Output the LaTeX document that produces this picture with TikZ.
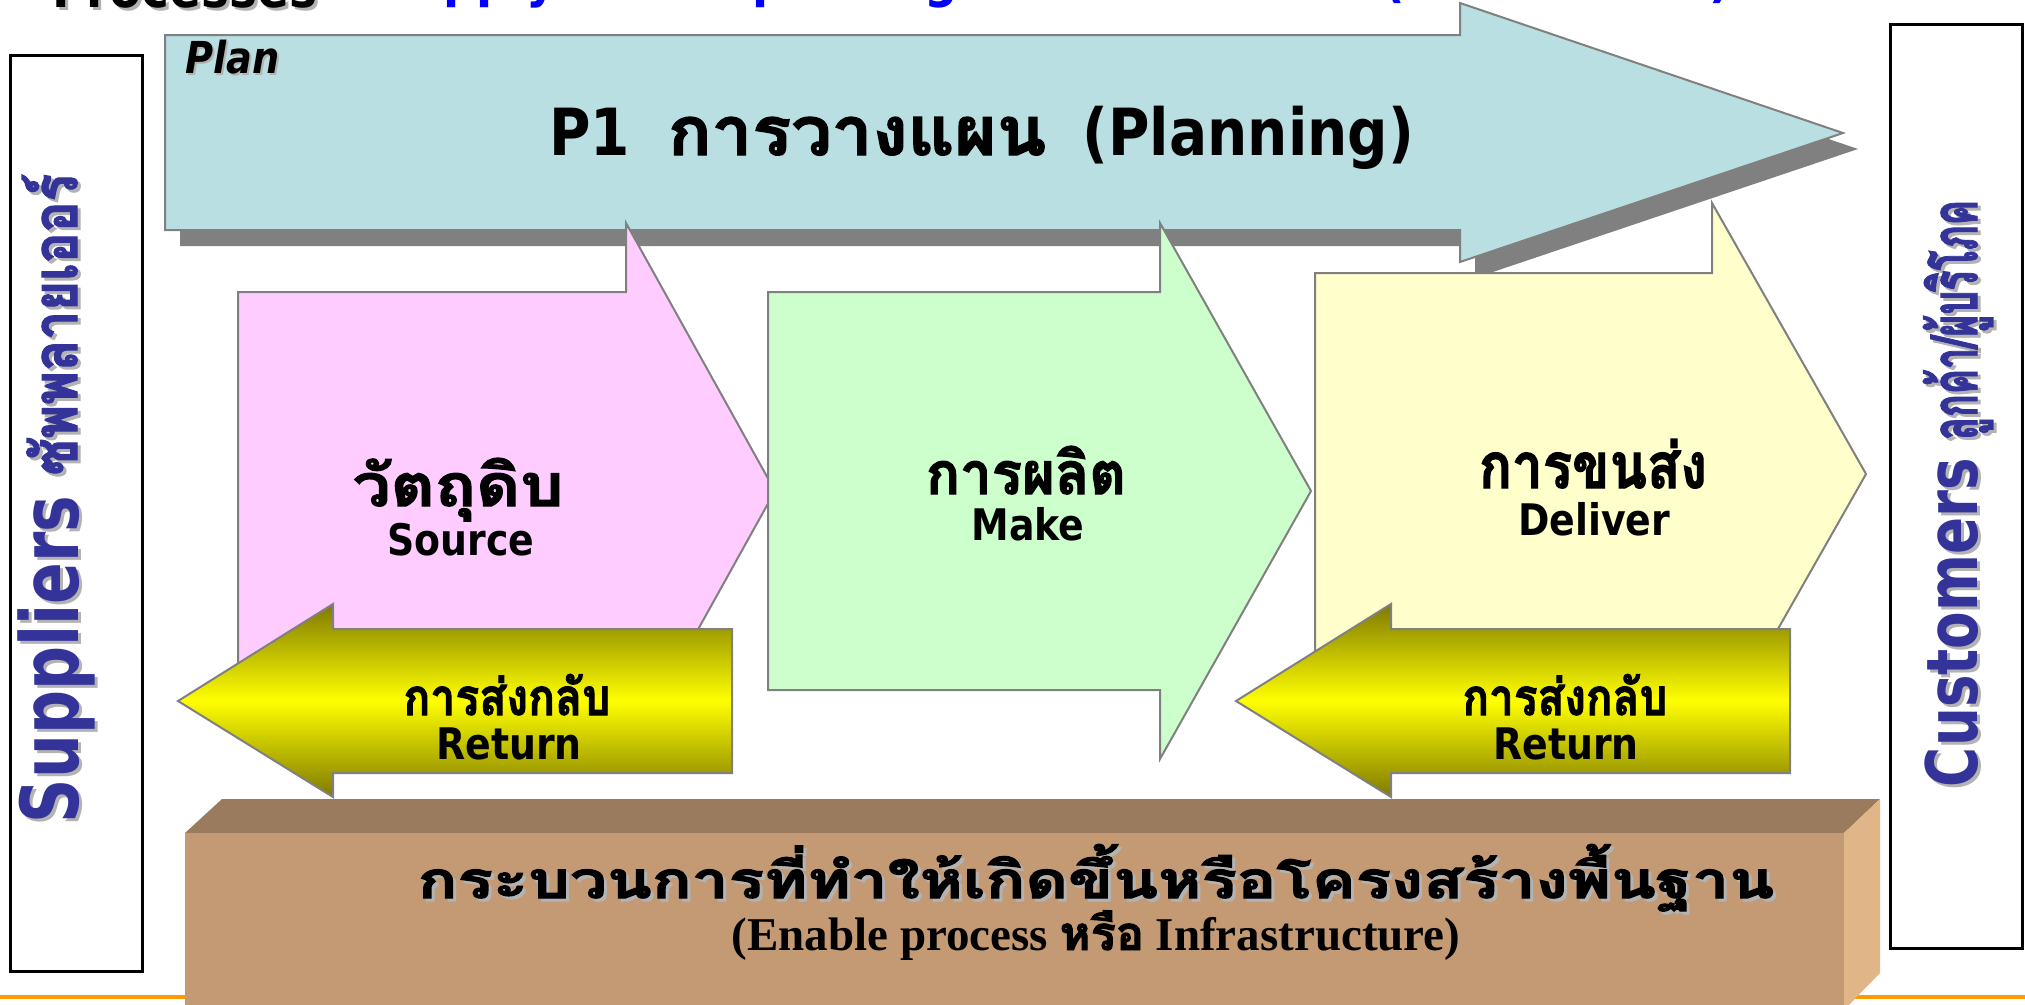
\documentclass[tikz,border=0pt]{standalone}
\usepackage{fontspec}
\usepackage{graphicx}
\newfontfamily\tah[FakeStretch=0.87]{DejaVu Sans}
\newfontfamily\tahc[FakeStretch=0.77]{DejaVu Sans}
\newfontfamily\thai[Script=Thai,BoldFeatures={FakeBold=2}]{Loma}
\newfontfamily\tnr{Liberation Serif}
\newcommand\thaitxt[3]{\resizebox{#1}{#2}{\thai\bfseries #3}}
\definecolor{planfill}{HTML}{B9DFE2}
\definecolor{linegray}{HTML}{808080}
\definecolor{pinkfill}{HTML}{FFCCFF}
\definecolor{greenfill}{HTML}{CCFFCC}
\definecolor{yelfill}{HTML}{FFFFCC}
\definecolor{oliveend}{HTML}{7F7A00}
\definecolor{yelmid}{HTML}{FFFF00}
\definecolor{browntop}{HTML}{9A7B5E}
\definecolor{brownfront}{HTML}{C49A74}
\definecolor{brownside}{HTML}{E0B688}
\definecolor{bluetxt}{HTML}{333399}
\definecolor{titleblue}{HTML}{0000FF}
\definecolor{orangeline}{HTML}{FF9900}
\definecolor{txtshadow}{HTML}{B3B3B3}
\begin{document}
\begin{tikzpicture}[x=1pt,y=-1pt,
  every node/.style={inner sep=0pt,outer sep=0pt},
  arrowline/.style={draw=linegray,line width=2pt,line join=miter},
  retarrow/.style={arrowline,top color=oliveend,bottom color=oliveend,middle color=yelmid},
  sidebox/.style={draw=black,line width=3pt,fill=white},
  lat/.style={font=\tah\bfseries\fontsize{43.5pt}{44pt}\selectfont},
  titlefont/.style={font=\tah\bfseries\fontsize{54pt}{54pt}\selectfont},
  sidebig/.style={font=\tahc\bfseries\fontsize{#1}{#1}\selectfont, rotate=90, anchor=base west},
  sidethai/.style={rotate=90, anchor=base west}]
\useasboundingbox (0,0) rectangle (2025,1004);
\clip (0,0) rectangle (2025,1004);
\fill[white] (0,0) rectangle (2025,1004);

% cut-off title
\node[titlefont, text=txtshadow, anchor=base west] (procsh) at (55,10) {Processes};
\node[titlefont, anchor=base west] (proc) at (52,7) {Processes};
\node[titlefont, text=titleblue, anchor=base west] (tsup) at (376,-4) {Supply};
\node[titlefont, text=titleblue, anchor=base west] (tp) at (752,-4) {p};
\node[titlefont, text=titleblue, anchor=base west] (tg) at (924,-4) {g};
\node[titlefont, text=titleblue, anchor=base west] (tlp) at (1383,-4) {(};
\node[titlefont, text=titleblue, anchor=base west] (trp) at (1709,-4) {)};

% orange rule
\draw[orangeline, line width=4pt] (0,997) -- (2025,997);

% side boxes
\draw[sidebox] (10,55) rectangle (142,971);
\draw[sidebox] (1890,24) rectangle (2022,948);

% plan arrow
\fill[linegray] (180,51) -- (1475,51) -- (1475,19) -- (1858,149) -- (1475,278) -- (1475,246) -- (180,246) -- cycle;
\draw[arrowline, fill=planfill] (165,35) -- (1460,35) -- (1460,3) -- (1843,133) -- (1460,262) -- (1460,230) -- (165,230) -- cycle;

% process arrows
\draw[arrowline, fill=pinkfill] (238,292) -- (626,292) -- (626,223) -- (775,491) -- (626,759) -- (626,690) -- (238,690) -- cycle;
\draw[arrowline, fill=greenfill] (768,292) -- (1160,292) -- (1160,223) -- (1311,491) -- (1160,759) -- (1160,690) -- (768,690) -- cycle;
\draw[arrowline, fill=yelfill] (1315,273) -- (1712,273) -- (1712,203) -- (1866,474) -- (1712,745) -- (1712,675) -- (1315,675) -- cycle;

% return arrows
\draw[retarrow] (732,629) -- (333,629) -- (333,604) -- (178,701) -- (333,797) -- (333,773) -- (732,773) -- cycle;
\draw[retarrow] (1790,629) -- (1391,629) -- (1391,604) -- (1236,701) -- (1391,797) -- (1391,773) -- (1790,773) -- cycle;

% enabling box
\fill[browntop] (185,833) -- (222,799) -- (1880,799) -- (1844,833) -- cycle;
\fill[brownfront] (185,833) rectangle (1844,1010);
\fill[brownside] (1844,833) -- (1880,799) -- (1880,973) -- (1844,1010) -- cycle;

% plan texts
\node[font=\tah\bfseries\itshape\fontsize{44pt}{44pt}\selectfont, text=txtshadow, anchor=base west] (plansh) at (187,75) {Plan};
\node[font=\tah\bfseries\itshape\fontsize{44pt}{44pt}\selectfont, anchor=base west] (plan) at (185,73) {Plan};
\node[font=\tah\bfseries\fontsize{65pt}{65pt}\selectfont, anchor=base west] (p1) at (549,155) {P1};
\node[anchor=base west] (p1th) at (668,155) {\thaitxt{378pt}{38pt}{การวางแผน}};
\node[font=\tah\bfseries\fontsize{65pt}{65pt}\selectfont, anchor=base east] (p1en) at (1414,155) {(Planning)};

% process texts
\node[anchor=base] (srcth) at (458,506) {\thaitxt{211pt}{48pt}{วัตถุดิบ}};
\node[lat, anchor=base] (srcen) at (461,555) {Source};
\node[anchor=base] (makth) at (1026,494) {\thaitxt{200pt}{48pt}{การผลิต}};
\node[lat, anchor=base] (maken) at (1028,540) {Make};
\node[anchor=base] (delth) at (1593,488) {\thaitxt{228pt}{49pt}{การขนส่ง}};
\node[lat, anchor=base] (delen) at (1594,535) {Deliver};
\node[anchor=base] (ret1th) at (507,715) {\thaitxt{207pt}{41pt}{การส่งกลับ}};
\node[lat, anchor=base] (ret1en) at (509,759) {Return};
\node[anchor=base] (ret2th) at (1565,715) {\thaitxt{205pt}{41pt}{การส่งกลับ}};
\node[lat, anchor=base] (ret2en) at (1566,759) {Return};

% side texts
\node[sidebig=80pt, text=txtshadow] (supsh) at (81,826) {Suppliers};
\node[sidebig=80pt, text=bluetxt] (sup) at (78,823) {Suppliers};
\node[sidethai, text=txtshadow] (supthsh) at (80,478) {\thaitxt{301pt}{55pt}{ซัพพลายเออร์}};
\node[sidethai, text=bluetxt] (supth) at (77,475) {\thaitxt{301pt}{55pt}{ซัพพลายเออร์}};
\node[sidebig=71pt, text=txtshadow] (cussh) at (1980,790) {Customers};
\node[sidebig=71pt, text=bluetxt] (cus) at (1977,787) {Customers};
\node[sidethai, text=txtshadow] (custhsh) at (1980,443) {\thaitxt{240pt}{54pt}{ลูกค้า/ผู้บริโภค}};
\node[sidethai, text=bluetxt] (custh) at (1977,440) {\thaitxt{240pt}{54pt}{ลูกค้า/ผู้บริโภค}};

% enabling texts
\node[anchor=base, text=txtshadow] (enthsh) at (1099,901) {\thaitxt{1356pt}{54pt}{กระบวนการที่ทำให้เกิดขึ้นหรือโครงสร้างพื้นฐาน}};
\node[anchor=base] (enth) at (1096,898) {\thaitxt{1356pt}{54pt}{กระบวนการที่ทำให้เกิดขึ้นหรือโครงสร้างพื้นฐาน}};
\node[anchor=base, font=\tnr\bfseries\fontsize{47pt}{47pt}\selectfont] (enen) at (1096,950) {(Enable process {\thai\bfseries หรือ} Infrastructure)};
\end{tikzpicture}
\end{document}
